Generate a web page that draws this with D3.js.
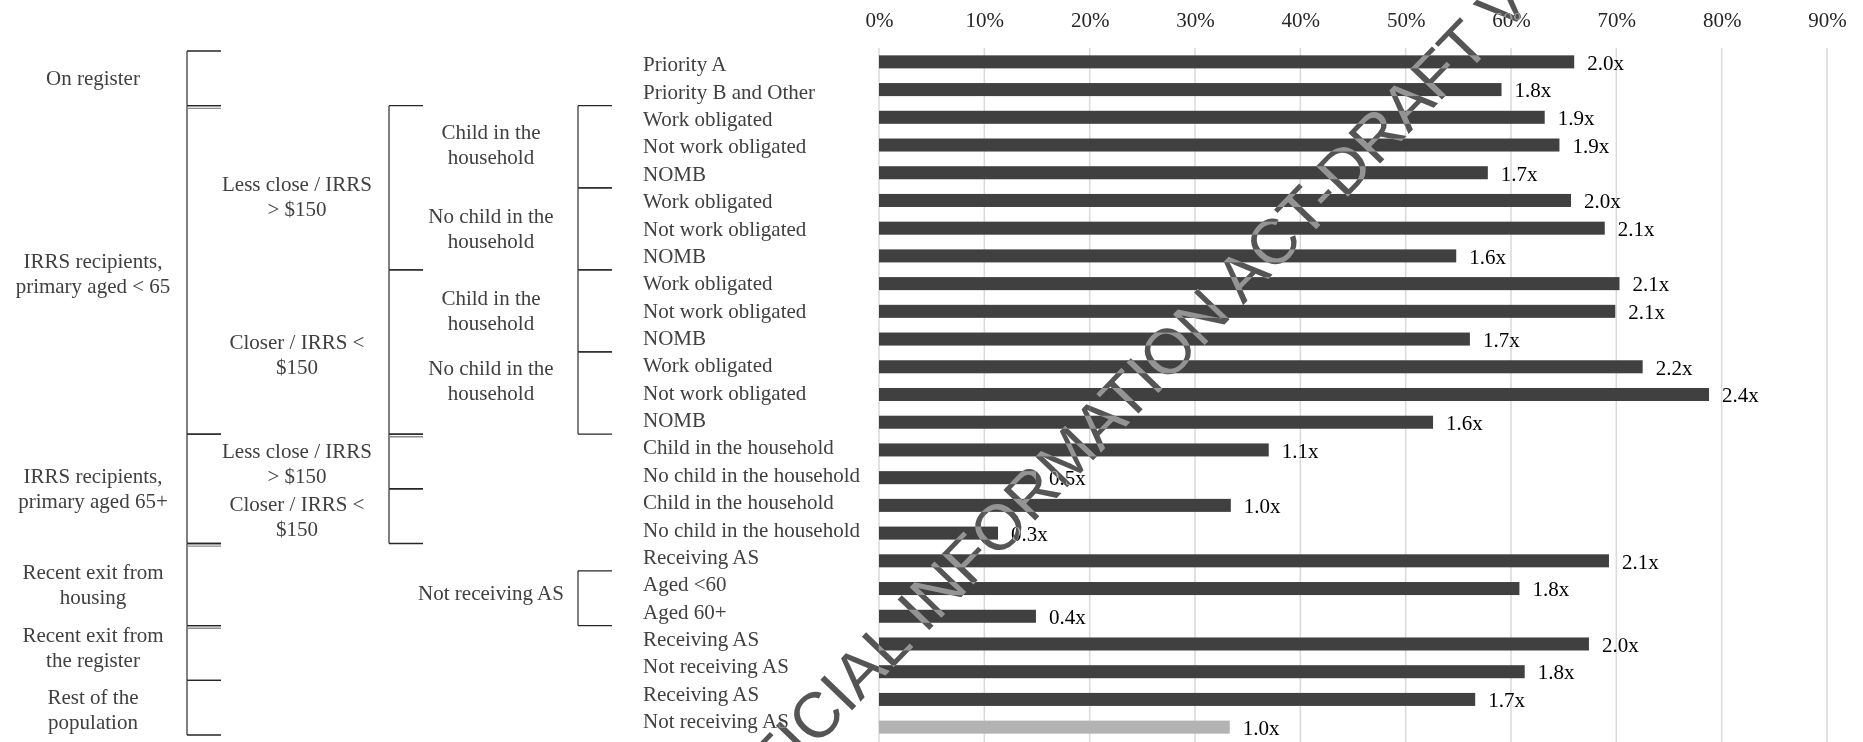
<!DOCTYPE html>
<html><head><meta charset="utf-8">
<script src="https://cdn.jsdelivr.net/npm/d3@7"></script>
<style>html,body{margin:0;padding:0;background:#fff;overflow:hidden}</style>
</head><body><svg id="c" width="1863" height="742"></svg>
<script>
// ---------- data ----------
const rowLabels = [
  "Priority A","Priority B and Other",
  "Work obligated","Not work obligated","NOMB",
  "Work obligated","Not work obligated","NOMB",
  "Work obligated","Not work obligated","NOMB",
  "Work obligated","Not work obligated","NOMB",
  "Child in the household","No child in the household",
  "Child in the household","No child in the household",
  "Receiving AS","Aged <60","Aged 60+",
  "Receiving AS","Not receiving AS",
  "Receiving AS","Not receiving AS"
];
const rates = [66.0,59.1,63.2,64.6,57.8,65.7,68.9,54.8,70.3,69.9,56.1,72.5,78.8,52.6,
               37.0,14.9,33.4,11.3,69.3,60.8,14.9,67.4,61.3,56.6,33.3];
const ratioLabels = ["2.0x","1.8x","1.9x","1.9x","1.7x","2.0x","2.1x","1.6x","2.1x","2.1x","1.7x","2.2x","2.4x","1.6x",
                     "1.1x","0.5x","1.0x","0.3x","2.1x","1.8x","0.4x","2.0x","1.8x","1.7x","1.0x"];
const xTicks = [0,10,20,30,40,50,60,70,80,90];
// groups: [label lines, first row, row after last]
const level1 = [
  [["On register"],0,2],
  [["IRRS recipients,","primary aged < 65"],2,14],
  [["IRRS recipients,","primary aged 65+"],14,18],
  [["Recent exit from","housing"],18,21],
  [["Recent exit from","the register"],21,23],
  [["Rest of the","population"],23,25]
];
const level2 = [
  [["Less close / IRRS","> $150"],2,8],
  [["Closer / IRRS <","$150"],8,14],
  [["Less close / IRRS","> $150"],14,16],
  [["Closer / IRRS <","$150"],16,18]
];
const level3 = [
  [["Child in the","household"],2,5],
  [["No child in the","household"],5,8],
  [["Child in the","household"],8,11],
  [["No child in the","household"],11,14],
  [["Not receiving AS"],19,21]
];
const watermark = "OFFICIAL INFORMATION ACT-DRAFT V";

// ---------- layout ----------
const W = 1863, H = 742;
const serif = "'Liberation Serif','Times New Roman',serif";
const svg = d3.select("#c");
svg.append("rect").attr("width", W).attr("height", H).attr("fill", "#fff");

const x = d3.scaleLinear().domain([0, 90]).range([879, 1827]);
const y = d3.scaleBand().domain(d3.range(rates.length)).range([48, 741]).paddingInner(0.53).paddingOuter(0.265);
const yT = d3.scaleLinear().domain([0, rates.length]).range([51, 735]);

// gridlines
svg.append("g").selectAll("line").data(xTicks).join("line")
  .attr("x1", d => x(d)).attr("x2", d => x(d)).attr("y1", 48).attr("y2", H)
  .attr("stroke", "#d9d9d9").attr("stroke-width", 1.5);

// top axis
const gAx = svg.append("g").attr("transform", "translate(0,27)")
  .call(d3.axisTop(x).tickValues(xTicks).tickFormat(d => d + "%").tickSize(0).tickPadding(0));
gAx.select(".domain").remove();
gAx.selectAll("text").attr("font-family", serif).attr("font-size", 21).attr("fill", "#262626");

// bars
svg.append("g").selectAll("rect").data(rates).join("rect")
  .attr("x", x(0)).attr("y", (d, i) => y(i))
  .attr("width", d => x(d) - x(0)).attr("height", y.bandwidth())
  .attr("fill", (d, i) => i === rates.length - 1 ? "#b3b3b3" : "#404040");

// value labels
svg.append("g").selectAll("text").data(rates).join("text")
  .attr("x", d => x(d) + 13).attr("y", (d, i) => y(i) + y.bandwidth() / 2).attr("dy", "0.37em")
  .attr("font-family", serif).attr("font-size", 21).attr("fill", "#000")
  .text((d, i) => ratioLabels[i]);

// row labels
svg.append("g").selectAll("text").data(rowLabels).join("text")
  .attr("x", 643).attr("y", (d, i) => yT(i + 0.5)).attr("dy", "0.32em")
  .attr("font-family", serif).attr("font-size", 21).attr("fill", "#404040")
  .text(d => d);

// brackets + group labels
const levels = [
  {groups: level1, xv: 187, xe: 221, cx: 93, doubles: [2, 18, 21], shift: {1: 4, 4: -5, 5: 2}},
  {groups: level2, xv: 389, xe: 423, cx: 297, doubles: [14], shift: {0: 9, 1: 3, 2: 2}},
  {groups: level3, xv: 578, xe: 612, cx: 491, doubles: [], shift: {0: -2, 3: -12, 4: -5}}
];
levels.forEach(L => {
  const g = svg.append("g");
  L.groups.forEach(([lines, a, b], gi) => {
    g.append("line").attr("x1", L.xv).attr("x2", L.xv).attr("y1", yT(a)).attr("y2", yT(b))
      .attr("stroke", "#808080").attr("stroke-width", 2);
    [a, b].forEach(r => {
      g.append("line").attr("x1", L.xv).attr("x2", L.xe).attr("y1", yT(r)).attr("y2", yT(r))
        .attr("stroke", "#262626").attr("stroke-width", 1.3);
    });
    const cy = (yT(a) + yT(b)) / 2 + (L.shift[gi] || 0);
    const n = lines.length;
    lines.forEach((ln, li) => {
      g.append("text").attr("x", L.cx).attr("y", cy + (li - (n - 1) / 2) * 25).attr("dy", "0.33em")
        .attr("text-anchor", "middle").attr("font-family", serif).attr("font-size", 21)
        .attr("fill", "#404040").text(ln);
    });
  });
  L.doubles.forEach(r => {
    g.append("line").attr("x1", L.xv).attr("x2", L.xe).attr("y1", yT(r) + 2.7).attr("y2", yT(r) + 2.7)
      .attr("stroke", "#8c8c8c").attr("stroke-width", 1.3);
  });
});

// watermark
const wFs = 64;
const wm = svg.append("g").attr("transform", "translate(915,612) rotate(-46)")
  .style("mix-blend-mode", "exclusion");
const wt = wm.append("text").attr("font-family", "'Liberation Sans',Arial,sans-serif")
  .attr("font-size", wFs).attr("fill", "#aaaaaa").text(watermark);
const pre = wt.node().getSubStringLength(0, 9);
const iw = wt.node().getSubStringLength(9, 1);
wt.attr("x", -pre - iw / 2).attr("y", 0.716 * wFs / 2);
</script>
</body></html>
